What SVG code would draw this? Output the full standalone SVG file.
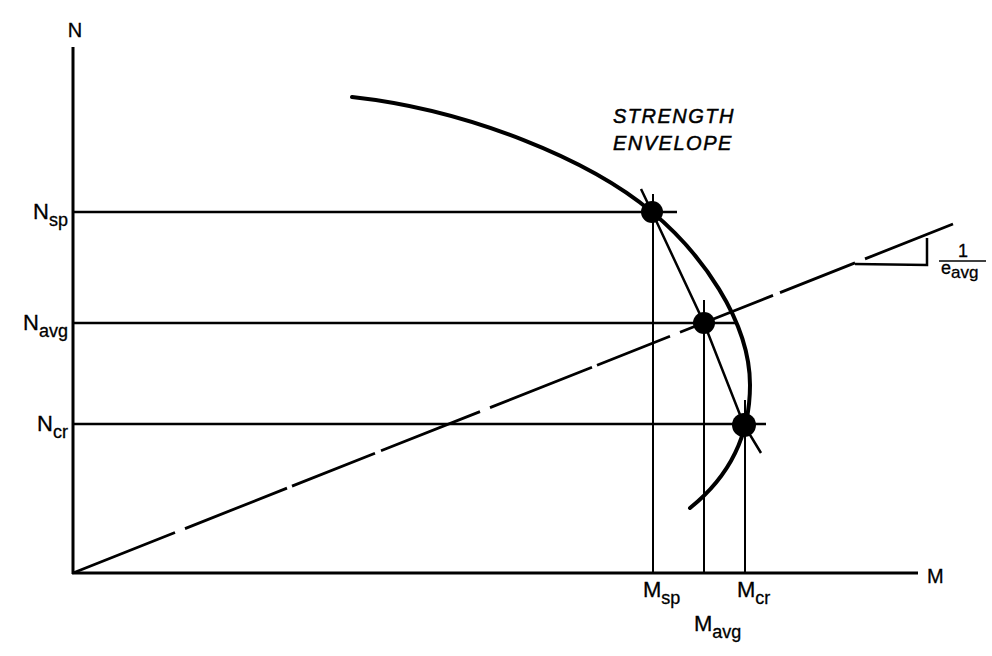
<svg xmlns="http://www.w3.org/2000/svg" width="992" height="656" viewBox="0 0 992 656">
<style>
  .ln { stroke: #000; fill: none; stroke-linecap: butt; }
  .ax { stroke-width: 3; }
  .hz { stroke-width: 2.5; }
  .vt { stroke-width: 2; }
  .cv { stroke-width: 4; stroke-linecap: round; }
  .ds { stroke-width: 2.8; }
  .dot { fill: #000; }
  .lbl { font-family: "Liberation Sans", Arial, sans-serif; font-size: 22px; fill: #000; stroke: #000; stroke-width: 0.3; }
  .sub { font-size: 18px; }
  .ttl { font-family: "Liberation Sans", Arial, sans-serif; font-size: 20px; font-style: italic; letter-spacing: 1.5px; fill: #000; stroke: #000; stroke-width: 0.5; }
</style>
<rect width="992" height="656" fill="#fff"/>

<g id="axes">
  <line class="ln ax" x1="73" y1="47" x2="73" y2="574"/>
  <line class="ln ax" x1="72" y1="573" x2="918" y2="573"/>
  <text class="lbl" x="75" y="37" text-anchor="middle" style="font-size:20px">N</text>
  <text class="lbl" x="927" y="583" style="font-size:20px">M</text>
</g>

<g id="connectors">
  <!-- horizontal level lines -->
  <line class="ln hz" x1="73" y1="212" x2="677" y2="212"/>
  <line class="ln hz" x1="73" y1="323" x2="737" y2="323"/>
  <line class="ln hz" x1="73" y1="424" x2="766" y2="424"/>
  <!-- vertical lines -->
  <line class="ln vt" x1="653" y1="194" x2="653" y2="573"/>
  <line class="ln vt" x1="704" y1="300" x2="704" y2="573"/>
  <line class="ln vt" x1="745" y1="400" x2="745" y2="573"/>
  <!-- straight line through points -->
  <polyline class="ln vt" points="641,189 652,212 704,323 744,425 761,453" style="stroke-width:2.5"/>
  <!-- dashed eccentricity line -->
  <path class="ln ds" d="M73,573 L175,532.5 M185,528.6 L287,488.1 M292,486.1 L375,453.2 M381,450.8 L480,411.6 M490,407.6 L592,367.2 M597,365.2 L670,336.2 M680,332.3 L773,295.4 M780,292.6 L855,262.9 M865,258.9 L953,224"/>
  <!-- slope triangle -->
  <polyline class="ln vt" points="855,264 927,265 927,238" style="stroke-width:2.5"/>
</g>

<g id="envelope">
  <path class="ln cv" d="M352,97 C470,110 590,160 652,212 C700,252 750,320 750,385 C750,440 725,480 690,508"/>
  <text class="ttl" x="613" y="123">STRENGTH</text>
  <text class="ttl" x="613" y="150">ENVELOPE</text>
</g>

<g id="point-sp">
  <circle class="dot" cx="652" cy="212" r="11"/>
  <text class="lbl" x="68" y="219" text-anchor="end">N<tspan class="sub" dy="7">sp</tspan></text>
  <text class="lbl" x="643" y="597">M<tspan class="sub" dy="7">sp</tspan></text>
</g>

<g id="point-avg">
  <circle class="dot" cx="704" cy="323" r="11"/>
  <text class="lbl" x="68" y="330" text-anchor="end">N<tspan class="sub" dy="7">avg</tspan></text>
  <text class="lbl" x="694" y="631">M<tspan class="sub" dy="7">avg</tspan></text>
</g>

<g id="point-cr">
  <circle class="dot" cx="744" cy="425" r="12"/>
  <text class="lbl" x="68" y="431" text-anchor="end">N<tspan class="sub" dy="7">cr</tspan></text>
  <text class="lbl" x="737" y="597">M<tspan class="sub" dy="7">cr</tspan></text>
</g>

<g id="slope-label">
  <text class="lbl" x="963" y="257" text-anchor="middle" style="font-size:18px">1</text>
  <line class="ln" x1="939" y1="261" x2="986" y2="261" stroke-width="1.5"/>
  <text class="lbl" x="941" y="274" style="font-size:18px">e<tspan class="sub" dy="4" style="font-size:17px">avg</tspan></text>
</g>
</svg>
